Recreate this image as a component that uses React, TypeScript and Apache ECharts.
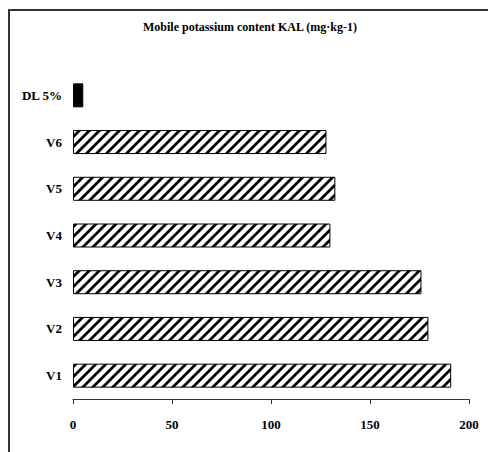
import React, { useEffect, useRef } from "react";
import * as echarts from "echarts";

const categories = ["V1", "V2", "V3", "V4", "V5", "V6", "DL 5%"];
const values = [191, 179.5, 176, 130, 132.5, 128, 5.2];
const xTicks = { min: 0, max: 200, interval: 50 };
const titleText = "Mobile potassium content KAL (mg·kg-1)";

const FONT = "'Liberation Serif', 'Times New Roman', serif";

function makeHatch(): HTMLCanvasElement {
  const c = document.createElement("canvas");
  const s = 10;
  c.width = s;
  c.height = s;
  const ctx = c.getContext("2d")!;
  ctx.fillStyle = "#ffffff";
  ctx.fillRect(0, 0, s, s);
  ctx.strokeStyle = "#000000";
  ctx.lineWidth = 2.8;
  ctx.lineCap = "square";
  const lines = [
    [-s, s, s, -s],
    [0, s, s, 0],
    [0, 2 * s, 2 * s, 0],
  ];
  for (const [x1, y1, x2, y2] of lines) {
    ctx.beginPath();
    ctx.moveTo(x1, y1);
    ctx.lineTo(x2, y2);
    ctx.stroke();
  }
  return c;
}

export default function App() {
  const ref = useRef<HTMLDivElement>(null);
  useEffect(() => {
    document.body.style.margin = "0";
    const chart = echarts.init(ref.current!, null, { renderer: "svg" });
    const hatch = makeHatch();
    const data = values.map((v, i) => ({
      value: v,
      itemStyle:
        categories[i] === "DL 5%"
          ? { color: "#000000" }
          : { color: { image: hatch, repeat: "repeat" } as any },
    }));
    chart.setOption({
      animation: false,
      backgroundColor: "#ffffff",
      grid: { left: 73, right: 19, top: 72, bottom: 53 },
      xAxis: {
        type: "value",
        min: xTicks.min,
        max: xTicks.max,
        interval: xTicks.interval,
        splitLine: { show: false },
        axisLine: { show: true, lineStyle: { color: "#333333", width: 1 } },
        axisTick: { show: true, length: 5, inside: false, lineStyle: { color: "#333333" } },
        axisLabel: {
          margin: 19,
          fontFamily: FONT,
          fontWeight: "bold",
          fontSize: 13,
          color: "#000000",
        },
      },
      yAxis: {
        type: "category",
        data: categories,
        axisLine: { show: false },
        axisTick: { show: false },
        axisLabel: {
          margin: 11,
          fontFamily: FONT,
          fontWeight: "bold",
          fontSize: 13,
          color: "#000000",
        },
      },
      series: [
        {
          type: "bar",
          data,
          barWidth: 24,
          itemStyle: { borderColor: "#000000", borderWidth: 1 },
        },
      ],
      graphic: [
        {
          type: "rect",
          shape: { x: 9, y: 10, width: 700, height: 700 },
          style: { fill: "none", stroke: "#333333", lineWidth: 2 },
          silent: true,
        },
        {
          type: "text",
          x: 250,
          y: 27,
          style: {
            text: titleText,
            fontFamily: FONT,
            fontWeight: "bold",
            fontSize: 12,
            fill: "#000000",
            align: "center",
            verticalAlign: "middle",
          },
        },
      ],
    });
    return () => chart.dispose();
  }, []);
  return <div ref={ref} style={{ width: 488, height: 452 }} />;
}
